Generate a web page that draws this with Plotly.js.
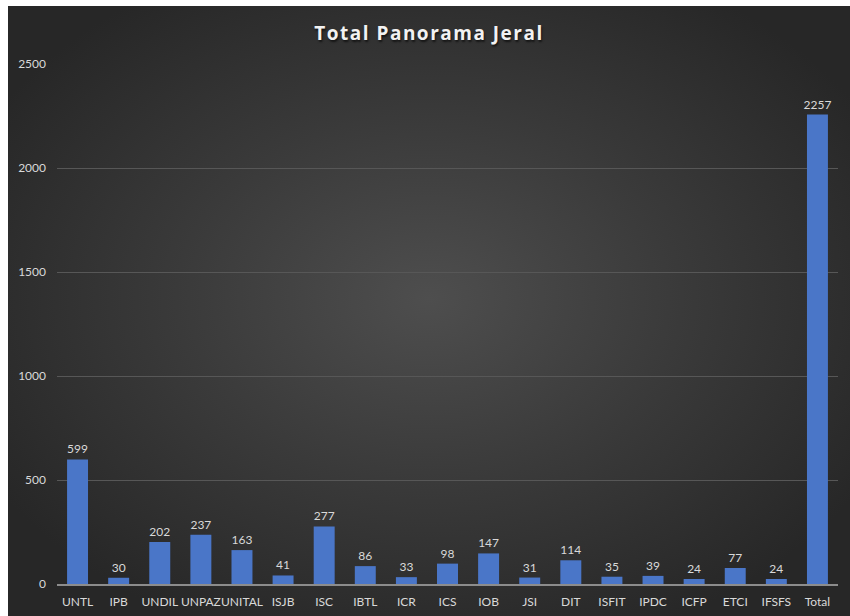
<!DOCTYPE html>
<html>
<head>
<meta charset="utf-8">
<script src="https://cdn.plot.ly/plotly-3.0.1.min.js"></script>
<style>
  html, body { margin:0; padding:0; background:#ffffff; width:850px; height:616px; overflow:hidden; }
  #bg { position:absolute; left:8px; top:6px; width:842px; height:610px;
        background: radial-gradient(ellipse 60% 60% at 50% 48%, #4e4e4e 0%, #3a3a3a 50%, #272727 100%); }
  #chart { position:absolute; left:8px; top:6px; width:842px; height:610px; }
  #chart .gtitle { text-shadow: 1px 2px 2px rgba(0,0,0,0.6); letter-spacing: 1.5px; }
</style>
</head>
<body>
<div id="bg"></div>
<div id="chart"></div>
<script>
const categories = ["UNTL","IPB","UNDIL","UNPAZ","UNITAL","ISJB","ISC","IBTL","ICR","ICS","IOB","JSI","DIT","ISFIT","IPDC","ICFP","ETCI","IFSFS","Total"];
const values = [599,30,202,237,163,41,277,86,33,98,147,31,114,35,39,24,77,24,2257];
const yTicks = [0,500,1000,1500,2000,2500];

const trace = {
  type: 'bar',
  x: categories,
  y: values,
  text: values.map(String),
  textposition: 'outside',
  constraintext: 'none',
  cliponaxis: false,
  textfont: { family: 'Lato, "Open Sans", sans-serif', size: 12, color: '#d9d9d9' },
  marker: { color: '#4a76c8', line: { width: 0 } },
  hoverinfo: 'none'
};

const layout = {
  width: 842, height: 610,
  margin: { l: 49, r: 12, t: 58, b: 32 },
  paper_bgcolor: 'rgba(0,0,0,0)',
  plot_bgcolor: 'rgba(0,0,0,0)',
  bargap: 0.49,
  showlegend: false,
  title: {
    text: '<b>Total Panorama Jeral</b>',
    x: 0.5, xanchor: 'center',
    y: 1 - 27/610, yanchor: 'middle', yref: 'container',
    font: { family: '"Open Sans", Lato, sans-serif', size: 19, color: '#f2f2f2' }
  },
  xaxis: {
    type: 'category',
    tickangle: 0,
    tickfont: { family: 'Lato, "Open Sans", sans-serif', size: 12, color: '#d9d9d9' },
    showgrid: false,
    showline: true, linecolor: '#8c8c8c', linewidth: 1.5,
    ticks: '', ticklabelstandoff: 6,
    fixedrange: true
  },
  yaxis: {
    range: [0, 2500],
    tickvals: yTicks,
    ticktext: yTicks.map(String),
    tickfont: { family: 'Lato, "Open Sans", sans-serif', size: 12, color: '#d9d9d9' },
    showgrid: true, gridcolor: '#575757', gridwidth: 1,
    zeroline: false, showline: false,
    ticks: '', ticklabelstandoff: 10,
    fixedrange: true
  }
};

Plotly.newPlot('chart', [trace], layout, { displayModeBar: false, staticPlot: true });
</script>
</body>
</html>
